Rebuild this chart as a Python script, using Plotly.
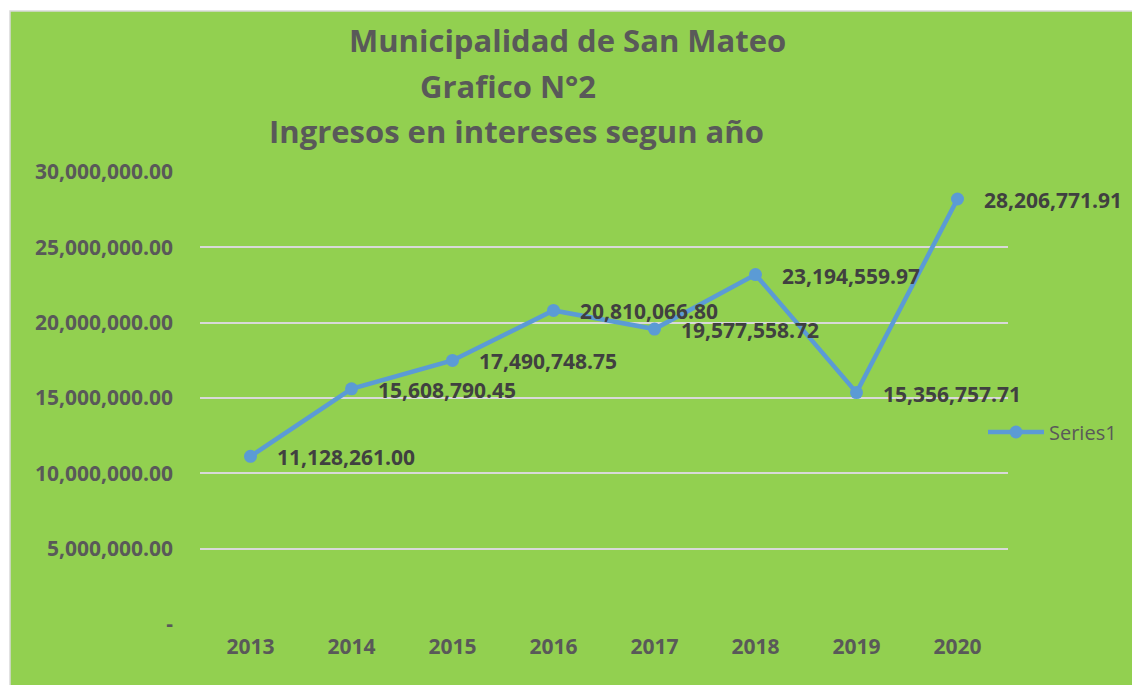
import plotly.graph_objects as go

years = ["2013", "2014", "2015", "2016", "2017", "2018", "2019", "2020"]
ingresos = [11128261.00, 15608790.45, 17490748.75, 20810066.80, 19577558.72, 23194559.97, 15356757.71, 28206771.91]
labels = ["11,128,261.00", "15,608,790.45", "17,490,748.75", "20,810,066.80", "19,577,558.72", "23,194,559.97", "15,356,757.71", "28,206,771.91"]
ytick_vals = [0, 5000000, 10000000, 15000000, 20000000, 25000000, 30000000]
ytick_text = ["-", "5,000,000.00", "10,000,000.00", "15,000,000.00", "20,000,000.00", "25,000,000.00", "30,000,000.00"]
title_lines = ["Municipalidad de San Mateo", "Grafico N°2", "Ingresos en intereses segun año"]

W, H = 1132, 685
L, R, T, B = 200, 124, 172, 61
pw, ph = W - L - R, H - T - B
def px(x): return (x - L) / pw
def py(y): return (H - B - y) / ph

FONT = "Open Sans"
green = "#92D050"
axis_col = "#595959"
lab_col = "#404040"
line_col = "#5B9BD5"

fig = go.Figure()
fig.add_trace(go.Scatter(
    x=years, y=ingresos, mode="lines+markers", name="Series1",
    line=dict(color=line_col, width=4.5),
    marker=dict(color=line_col, size=13),
    cliponaxis=False,
))

anns = []
for i, (y, t) in enumerate(zip(ingresos, labels)):
    anns.append(dict(x=i, y=y, xref="x", yref="y", text=t, showarrow=False,
                     xanchor="left", yanchor="middle", xshift=24, yshift=-1,
                     font=dict(family=FONT, size=21, color=lab_col, weight="bold")))

title_pos = [(567, 40), (508, 86), (516, 131)]
for t, (cx, cy) in zip(title_lines, title_pos):
    anns.append(dict(x=px(cx), y=py(cy), xref="paper", yref="paper", text=t,
                     showarrow=False, xanchor="center", yanchor="middle",
                     font=dict(family=FONT, size=31, color=axis_col, weight="bold")))

fig.update_layout(
    width=W, height=H,
    margin=dict(l=L, r=R, t=T, b=B, autoexpand=False),
    paper_bgcolor="white",
    plot_bgcolor="rgba(0,0,0,0)",
    showlegend=True,
    legend=dict(x=px(983), y=py(432), xanchor="left", yanchor="middle",
                bgcolor="rgba(0,0,0,0)", itemwidth=56,
                font=dict(family=FONT, size=20, color=axis_col)),
    annotations=anns,
    shapes=[dict(type="rect", xref="paper", yref="paper",
                 x0=px(10), x1=px(W + 5), y0=py(H + 5), y1=py(11),
                 fillcolor=green, line=dict(color="#D9D9D9", width=1.5), layer="below")],
    xaxis=dict(type="category", range=[-0.5, len(years) - 0.5], autorange=False,
               showgrid=False, zeroline=False, showline=False, ticks="",
               tickfont=dict(family=FONT, size=21, color=axis_col, weight="bold"),
               ticklabelstandoff=8),
    yaxis=dict(range=[0, 30000000], tickvals=ytick_vals, ticktext=ytick_text,
               showgrid=True, gridcolor="#D9D9D9", gridwidth=2, zeroline=False,
               showline=False, ticks="", ticklabelstandoff=26,
               tickfont=dict(family=FONT, size=21, color=axis_col, weight="bold")),
)

fig.write_html("out.html", config={"displayModeBar": False},
               post_script="document.body.style.margin='0';document.body.style.overflow='hidden';")
